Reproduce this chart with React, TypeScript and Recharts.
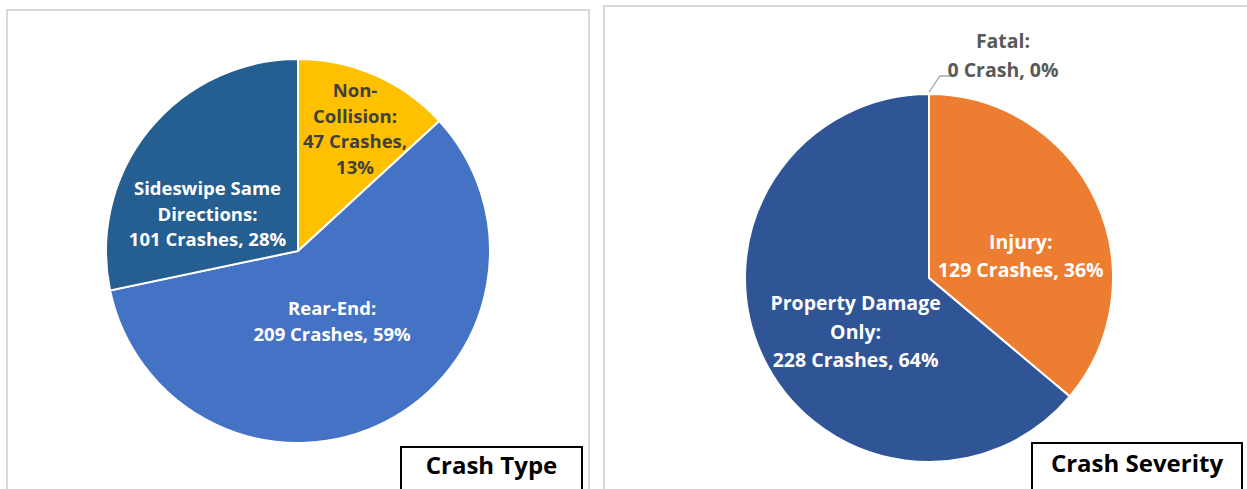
import React from "react";
import { Cell, Pie, PieChart } from "recharts";

// Crash Type (left pie)
const typeNames = ["Non-Collision", "Rear-End", "Sideswipe Same Directions"];
const typeCounts = [47, 209, 101];
const typeNameLines = [["Non-", "Collision:"], ["Rear-End:"], ["Sideswipe Same", "Directions:"]];
const typeColors = ["#FFC000", "#4472C4", "#255E91"];

// Crash Severity (right pie)
const sevNames = ["Fatal", "Injury", "Property Damage Only"];
const sevCounts = [0, 129, 228];
const sevNameLines = [["Fatal:"], ["Injury:"], ["Property Damage", "Only:"]];
const sevColors = ["#7F7F7F", "#ED7D31", "#2F5597"];

const RADIAN = Math.PI / 180;
const FONT = "'Open Sans', 'Liberation Sans', sans-serif";

interface LabelSpot {
  r: number; // fraction of outer radius along mid angle
  dx: number;
  dy: number;
  split?: boolean; // break "N Crashes," / "P%" on two lines
  color: string;
}

const typeSpots: LabelSpot[] = [
  { r: 0.7, dx: 3, dy: 0, split: true, color: "#404040" },
  { r: 0.4, dx: -1, dy: 1, color: "#ffffff" },
  { r: 0.52, dx: -13, dy: 25, color: "#ffffff" },
];

const sevSpots: LabelSpot[] = [
  { r: 1, dx: 0, dy: 0, color: "#595959" },
  { r: 0.55, dx: 0, dy: 20, color: "#ffffff" },
  { r: 0.44, dx: 0, dy: 19, color: "#ffffff" },
];

function makeLabel(nameLines: string[][], spots: LabelSpot[], fontSize: number, lineH: number) {
  return (props: any) => {
    const { cx, cy, midAngle, outerRadius, percent, value, index } = props;
    const spot = spots[index];
    const pct = `${Math.round(percent * 100)}%`;
    const unit = value <= 1 ? "Crash" : "Crashes";
    const lines = spot.split
      ? [...nameLines[index], `${value} ${unit},`, pct]
      : [...nameLines[index], `${value} ${unit}, ${pct}`];

    if (value === 0) {
      // zero slice: leader line from the top of the pie out to the text
      const px = cx + outerRadius * Math.cos(-midAngle * RADIAN);
      const py = cy + outerRadius * Math.sin(-midAngle * RADIAN);
      const tx = px + 74;
      const ty = py - 39;
      return (
        <g>
          <polyline
            points={`${px},${py - 2} ${px + 11},${py - 18} ${px + 24},${py - 18}`}
            fill="none"
            stroke="#A6A6A6"
            strokeWidth={1.3}
          />
          <text x={tx} y={ty} fill={spot.color} textAnchor="middle" fontFamily={FONT} fontWeight={700} fontSize={fontSize}>
            {lines.map((l, i) => (
              <tspan key={i} x={tx} y={ty + (i - (lines.length - 1) / 2) * lineH} dominantBaseline="central">
                {l}
              </tspan>
            ))}
          </text>
        </g>
      );
    }

    const rr = outerRadius * spot.r;
    const x = cx + rr * Math.cos(-midAngle * RADIAN) + spot.dx;
    const y = cy + rr * Math.sin(-midAngle * RADIAN) + spot.dy;
    return (
      <text x={x} y={y} fill={spot.color} textAnchor="middle" fontFamily={FONT} fontWeight={700} fontSize={fontSize}>
        {lines.map((l, i) => (
          <tspan key={i} x={x} y={y + (i - (lines.length - 1) / 2) * lineH} dominantBaseline="central">
            {l}
          </tspan>
        ))}
      </text>
    );
  };
}

const typeData = typeNames.map((name, i) => ({ name, value: typeCounts[i] }));
const sevData = sevNames.map((name, i) => ({ name, value: sevCounts[i] }));

const panel: React.CSSProperties = {
  position: "absolute",
  boxSizing: "border-box",
  border: "2px solid #D9D9D9",
  background: "#fff",
  overflow: "hidden",
};

const titleBox: React.CSSProperties = {
  position: "absolute",
  boxSizing: "border-box",
  border: "2px solid #000",
  background: "#fff",
  fontFamily: FONT,
  fontWeight: 700,
  fontSize: 24,
  color: "#000",
  textAlign: "center",
};

const noMargin = { top: 0, right: 0, bottom: 0, left: 0 };

export default function App() {
  return (
    <div
      style={{
        position: "absolute",
        left: 0,
        top: 0,
        width: 1247,
        height: 489,
        overflow: "hidden",
        background: "#fff",
      }}
    >
      <div style={{ ...panel, left: 6, top: 9, width: 584, height: 520 }}>
        <PieChart width={580} height={478} margin={noMargin}>
          <Pie
            data={typeData}
            dataKey="value"
            nameKey="name"
            cx={290}
            cy={240}
            outerRadius={192}
            startAngle={90}
            endAngle={-270}
            stroke="#ffffff"
            strokeWidth={2}
            labelLine={false}
            label={makeLabel(typeNameLines, typeSpots, 18.5, 25.8)}
            isAnimationActive={false}
          >
            {typeData.map((d, i) => (
              <Cell key={d.name} fill={typeColors[i]} />
            ))}
          </Pie>
        </PieChart>
      </div>

      <div style={{ ...panel, left: 603, top: 5, width: 680, height: 520 }}>
        <PieChart width={642} height={482} margin={noMargin}>
          <Pie
            data={sevData}
            dataKey="value"
            nameKey="name"
            cx={324}
            cy={271}
            outerRadius={184}
            startAngle={90}
            endAngle={-270}
            stroke="#ffffff"
            strokeWidth={2}
            labelLine={false}
            label={makeLabel(sevNameLines, sevSpots, 19.5, 28.2)}
            isAnimationActive={false}
          >
            {sevData.map((d, i) => (
              <Cell key={d.name} fill={sevColors[i]} />
            ))}
          </Pie>
        </PieChart>
      </div>

      <div style={{ ...titleBox, left: 400, top: 446, width: 183, height: 60, lineHeight: "34px" }}>Crash Type</div>
      <div style={{ ...titleBox, left: 1031, top: 442, width: 212, height: 60, lineHeight: "38px" }}>Crash Severity</div>
    </div>
  );
}
